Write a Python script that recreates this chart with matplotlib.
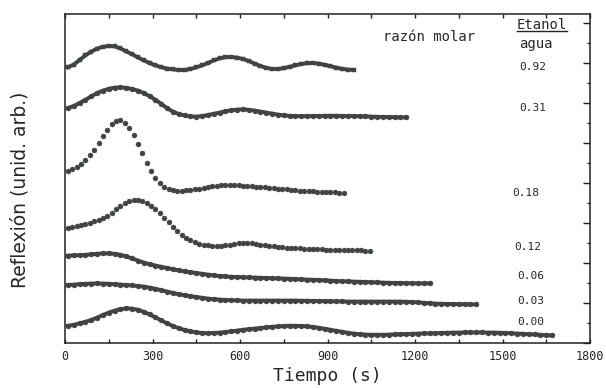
import numpy as np
import matplotlib
matplotlib.use("Agg")
import matplotlib.pyplot as plt
from matplotlib.ticker import MultipleLocator
from matplotlib.lines import Line2D

# ---------------- data ----------------
ratio_labels = ["0.92", "0.31", "0.18", "0.12", "0.06", "0.03", "0.00"]
t_start = [10, 10, 10, 10, 10, 10, 10]      # s
t_step = [20, 20, 15, 15, 20, 20, 20]       # s

r092 = [13.78, 13.92, 14.15, 14.38, 14.57, 14.72, 14.81, 14.85, 14.83, 14.73,
        14.58, 14.44, 14.28, 14.13, 14.00, 13.88, 13.79, 13.72, 13.68, 13.65,
        13.65, 13.70, 13.78, 13.88, 14.00, 14.13, 14.23, 14.29, 14.30, 14.27,
        14.20, 14.10, 13.97, 13.85, 13.76, 13.70, 13.70, 13.74, 13.81, 13.88,
        13.95, 13.99, 14.00, 13.97, 13.91, 13.84, 13.77, 13.71, 13.67, 13.65]

r031 = [11.75, 11.85, 12.00, 12.16, 12.33, 12.50, 12.62, 12.71, 12.77, 12.78,
        12.76, 12.70, 12.62, 12.50, 12.34, 12.16, 11.96, 11.74, 11.57, 11.45,
        11.38, 11.33, 11.32, 11.35, 11.40, 11.46, 11.52, 11.58, 11.64, 11.67,
        11.68, 11.66, 11.62, 11.57, 11.52, 11.47, 11.42, 11.38, 11.36, 11.35,
        11.34, 11.34, 11.35, 11.35, 11.36, 11.36, 11.36, 11.35, 11.35, 11.35,
        11.34, 11.33, 11.32, 11.31, 11.30, 11.30, 11.29, 11.28, 11.28]

r018 = [8.60, 8.70, 8.82, 8.96, 9.14, 9.38, 9.66, 9.98, 10.33, 10.66,
        10.93, 11.10, 11.15, 11.02, 10.75, 10.40, 9.96, 9.48, 9.00, 8.58,
        8.25, 8.00, 7.82, 7.71, 7.65, 7.62, 7.62, 7.63, 7.65, 7.68,
        7.72, 7.76, 7.80, 7.84, 7.87, 7.89, 7.90, 7.90, 7.90, 7.89,
        7.87, 7.86, 7.84, 7.82, 7.80, 7.78, 7.76, 7.74, 7.72, 7.70,
        7.68, 7.66, 7.64, 7.62, 7.61, 7.60, 7.58, 7.57, 7.56, 7.55,
        7.54, 7.53, 7.52, 7.52]

r012 = [5.74, 5.79, 5.85, 5.90, 5.96, 6.02, 6.08, 6.16, 6.26, 6.37,
        6.52, 6.70, 6.86, 7.00, 7.10, 7.16, 7.17, 7.12, 7.02, 6.86,
        6.68, 6.48, 6.26, 6.04, 5.82, 5.60, 5.42, 5.27, 5.14, 5.04,
        4.97, 4.92, 4.88, 4.86, 4.86, 4.87, 4.89, 4.92, 4.96, 4.99,
        5.02, 5.01, 4.98, 4.95, 4.92, 4.88, 4.85, 4.83, 4.81, 4.79,
        4.77, 4.75, 4.74, 4.73, 4.72, 4.71, 4.70, 4.69, 4.68, 4.67,
        4.66, 4.66, 4.65, 4.65, 4.64, 4.64, 4.63, 4.63, 4.62, 4.62]

r006 = [4.37, 4.38, 4.39, 4.41, 4.43, 4.46, 4.48, 4.48, 4.46, 4.41,
        4.33, 4.23, 4.12, 4.02, 3.94, 3.87, 3.81, 3.75, 3.69, 3.63,
        3.58, 3.54, 3.50, 3.46, 3.42, 3.38, 3.35, 3.33, 3.31, 3.30,
        3.29, 3.28, 3.27, 3.26, 3.25, 3.24, 3.23, 3.22, 3.21, 3.20,
        3.18, 3.17, 3.16, 3.15, 3.13, 3.12, 3.10, 3.09, 3.08, 3.07,
        3.06, 3.05, 3.04, 3.03, 3.02, 3.01, 3.00, 3.00, 2.99, 2.99,
        2.98, 2.98, 2.98]

r003 = [2.90, 2.92, 2.94, 2.96, 2.97, 2.98, 2.97, 2.96, 2.94, 2.92,
        2.90, 2.88, 2.85, 2.82, 2.77, 2.71, 2.64, 2.57, 2.50, 2.44,
        2.39, 2.34, 2.30, 2.26, 2.22, 2.19, 2.17, 2.15, 2.14, 2.13,
        2.12, 2.12, 2.12, 2.12, 2.12, 2.12, 2.12, 2.12, 2.12, 2.12,
        2.11, 2.11, 2.10, 2.10, 2.09, 2.09, 2.08, 2.08, 2.07, 2.07,
        2.07, 2.07, 2.07, 2.07, 2.07, 2.07, 2.07, 2.07, 2.06, 2.05,
        2.03, 2.01, 1.99, 1.97, 1.96, 1.95, 1.95, 1.94, 1.94, 1.93,
        1.93]

r000 = [0.86, 0.91, 0.98, 1.06, 1.15, 1.27, 1.40, 1.52, 1.62, 1.69,
        1.73, 1.72, 1.66, 1.56, 1.43, 1.28, 1.13, 0.98, 0.85, 0.74,
        0.65, 0.58, 0.53, 0.50, 0.49, 0.50, 0.52, 0.55, 0.58, 0.62,
        0.66, 0.69, 0.72, 0.75, 0.78, 0.81, 0.83, 0.85, 0.86, 0.86,
        0.85, 0.83, 0.80, 0.76, 0.71, 0.66, 0.61, 0.56, 0.51, 0.47,
        0.44, 0.42, 0.41, 0.41, 0.41, 0.42, 0.43, 0.44, 0.45, 0.46,
        0.47, 0.48, 0.48, 0.49, 0.50, 0.51, 0.52, 0.52, 0.53, 0.53,
        0.53, 0.53, 0.52, 0.52, 0.51, 0.50, 0.49, 0.47, 0.46, 0.44,
        0.43, 0.41, 0.39, 0.38]

series = [r092, r031, r018, r012, r006, r003, r000]

x_ticks = [0, 300, 600, 900, 1200, 1500, 1800]

# ---------------- styles / layout ----------------
ink = "#3f4441"
marker_kind = ["s", "o", "o", "o", "o", "o", "o"]
with_line = [True, True, False, False, True, True, True]
label_pos = [(0.865, 0.839), (0.865, 0.714), (0.851, 0.456), (0.855, 0.292),
             (0.861, 0.204), (0.861, 0.128), (0.861, 0.064)]
mono = "DejaVu Sans Mono"
txt = "#262626"

fig = plt.figure(figsize=(6.06, 3.88), dpi=100)
ax = fig.add_axes([65 / 606, 1 - 343 / 388, 525 / 606, 329 / 388])

for vals, t0, dt, mk, wl in zip(series, t_start, t_step, marker_kind, with_line):
    t = t0 + dt * np.arange(len(vals))
    ax.plot(t, vals, linestyle="-" if wl else "none", lw=2.8, color=ink,
            marker=mk, ms=3.6 if mk == "o" else 3.3, mfc=ink, mec=ink,
            mew=0.3)

ax.set_xlim(0, 1800)
ax.set_ylim(0, 16.45)

ax.set_xticks(x_ticks)
ax.set_xticklabels([str(v) for v in x_ticks], fontfamily=mono, fontsize=8.5)
ax.xaxis.set_minor_locator(MultipleLocator(150))
ax.yaxis.set_major_locator(MultipleLocator(2))
ax.yaxis.set_minor_locator(MultipleLocator(1))

ax.tick_params(axis="x", which="both", direction="in", top=True, bottom=True,
               length=3.2, width=1.0, color="#222222", pad=5,
               labelcolor=txt)
ax.tick_params(axis="y", which="both", direction="in", left=False, right=True,
               labelleft=False, labelright=False, color="#222222", width=1.0)
ax.tick_params(axis="y", which="major", length=5)
ax.tick_params(axis="y", which="minor", length=2.5)

for s in ax.spines.values():
    s.set_linewidth(1.1)
    s.set_color("#222222")

ax.set_xlabel("Tiempo (s)", fontfamily=mono, fontsize=13, labelpad=3,
              color=txt)
fig.text(20 / 606, 1 - 190 / 388, "Reflexión (unid. arb.)", rotation=90,
         ha="center", va="center", fontsize=13.5, color=txt,
         family="DejaVu Sans")

ax.text(0.606, 0.930, "razón molar", transform=ax.transAxes, ha="left",
        va="center", fontfamily=mono, fontsize=10, color=txt)
ax.text(0.861, 0.967, "Etanol", transform=ax.transAxes, ha="left",
        va="center", fontfamily=mono, fontsize=10, color=txt)
ax.add_line(Line2D([0.861, 0.956], [0.947, 0.947], transform=ax.transAxes,
                   color=txt, lw=1.0))
ax.text(0.865, 0.909, "agua", transform=ax.transAxes, ha="left",
        va="center", fontfamily=mono, fontsize=10, color=txt)

for lab, (lx, ly) in zip(ratio_labels, label_pos):
    ax.text(lx, ly, lab, transform=ax.transAxes, ha="left", va="center",
            fontfamily=mono, fontsize=8, color=txt)

fig.savefig("out.png", dpi=100)
